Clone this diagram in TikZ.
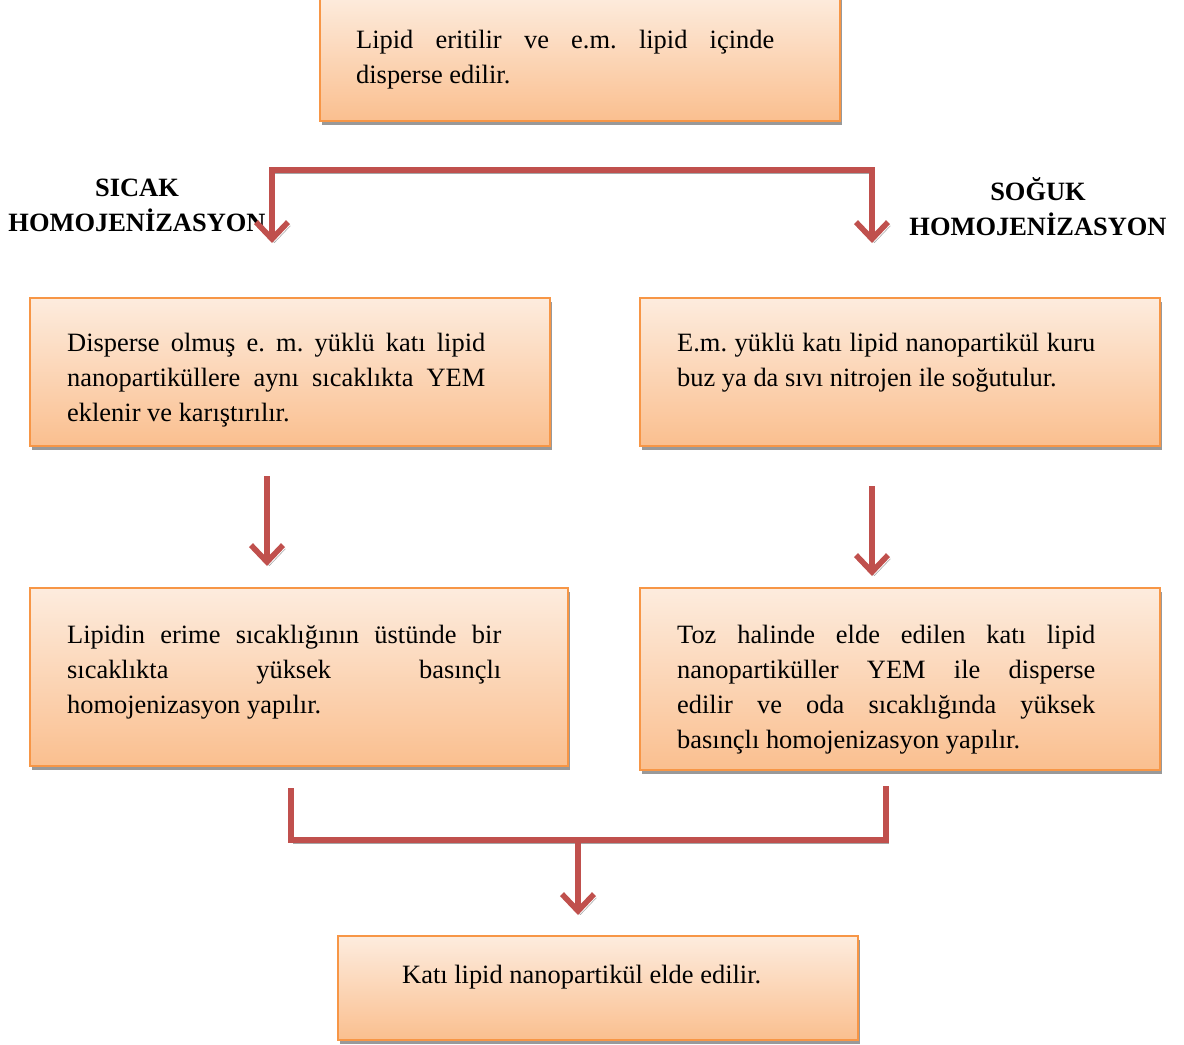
\documentclass[tikz,border=0pt]{standalone}
\usepackage{fontspec}
\setmainfont{Liberation Serif}
\usetikzlibrary{positioning, shadows, arrows.meta}
\definecolor{boxtop}{RGB}{253,236,222}
\definecolor{boxbottom}{RGB}{250,191,143}
\definecolor{boxborder}{RGB}{247,150,70}
\definecolor{arrowred}{RGB}{192,80,77}
\frenchspacing

\begin{document}
\begin{tikzpicture}[
    x=0.025cm, y=-0.025cm,
    >={Straight Barb[length=0.42cm, width=0.8cm]},
    box/.style={rectangle, draw=boxborder, line width=1.5pt, top color=boxtop, bottom color=boxbottom, minimum width=13cm,
        drop shadow={shadow xshift=0.04cm, shadow yshift=-0.1cm, fill=black!40, opacity=1}},
    txt/.style={anchor=north west, inner sep=0pt, text width=10.45cm, align=justify, font=\fontsize{18.8}{24.8}\selectfont},
    side/.style={align=center, font=\fontsize{18.8}{24.8}\selectfont\bfseries},
    flow/.style={line width=0.14cm, draw=arrowred, line join=miter,
        preaction={draw=black!35, transform canvas={shift={(0.06cm,-0.09cm)}}}}
]
    \useasboundingbox (0,0) rectangle (1184,1045);

    % Boxes
    \node[box, minimum height=3.15cm] (melt) at (580,58) {};
    \node[box, minimum height=3.7cm] (hot1) at (290,372) {};
    \node[box, minimum height=3.7cm] (cold1) at (900,372) {};
    \node[box, minimum height=4.45cm, minimum width=13.45cm] (hot2) at (299,677) {};
    \node[box, minimum height=4.55cm] (cold2) at (900,679) {};
    \node[box, minimum height=2.6cm] (result) at (598,988) {};

    % Box texts
    \node[txt, below right=0.9cm and 0.925cm of melt.north west] (melttext)
        {Lipid eritilir ve e.m. lipid içinde\linebreak disperse edilir.};
    \node[txt, below right=0.9cm and 0.95cm of hot1.north west] (hot1text)
        {Disperse olmuş e. m. yüklü katı lipid\linebreak nanopartiküllere aynı sıcaklıkta YEM\linebreak eklenir ve karıştırılır.};
    \node[txt, below right=0.9cm and 0.95cm of cold1.north west] (cold1text)
        {E.m. yüklü katı lipid nanopartikül kuru\linebreak buz ya da sıvı nitrojen ile soğutulur.};
    \node[txt, text width=10.85cm, below right=0.95cm and 0.95cm of hot2.north west] (hot2text)
        {Lipidin erime sıcaklığının üstünde bir\linebreak sıcaklıkta yüksek basınçlı\linebreak homojenizasyon yapılır.};
    \node[txt, below right=0.95cm and 0.95cm of cold2.north west] (cold2text)
        {Toz halinde elde edilen katı lipid\linebreak nanopartiküller YEM ile disperse\linebreak edilir ve oda sıcaklığında yüksek\linebreak basınçlı homojenizasyon yapılır.};
    \node[txt, below right=0.75cm and 1.625cm of result.north west] (resulttext)
        {Katı lipid nanopartikül elde edilir.};

    % Side labels
    \node[side] (hotlabel) at (137,205) {SICAK\\HOMOJENİZASYON};
    \node[side] (coldlabel) at (1038,207) {SOĞUK\\HOMOJENİZASYON};

    % Connector points
    \coordinate (splitL) at (272,170);
    \coordinate (splitR) at (872,170);
    \coordinate (hotin) at (272,243);
    \coordinate (coldin) at (872,243);
    \coordinate (hotmidA) at (267,476);
    \coordinate (hotmidB) at (267,566);
    \coordinate (coldmidA) at (872,486);
    \coordinate (coldmidB) at (872,576);
    \coordinate (hotout) at (291,788);
    \coordinate (coldout) at (886,786);
    \coordinate (joinL) at (291,840);
    \coordinate (joinR) at (886,840);
    \coordinate (joinM) at (578,840);
    \coordinate (resultin) at (578,915);

    % Arrows
    \draw[flow, <->] (hotin) -- (splitL) -- (splitR) -- (coldin);
    \draw[flow, ->] (hotmidA) -- (hotmidB);
    \draw[flow, ->] (coldmidA) -- (coldmidB);
    \draw[flow] (hotout) -- (joinL) -- (joinR) -- (coldout);
    \draw[flow, ->] (joinM) -- (resultin);
\end{tikzpicture}
\end{document}
